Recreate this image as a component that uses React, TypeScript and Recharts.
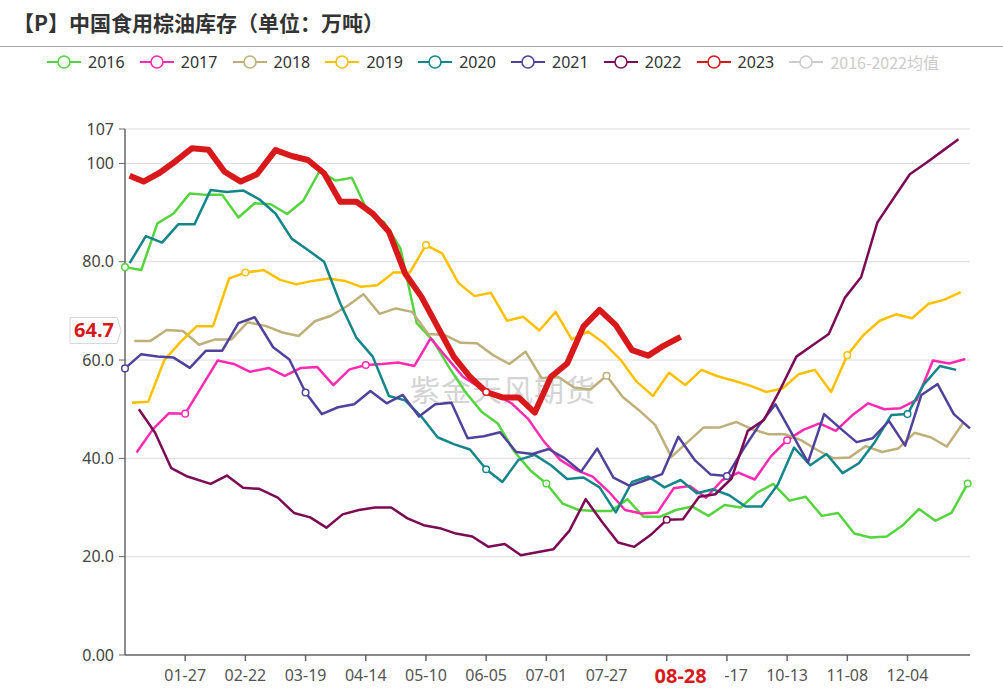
import React from "react";
import { LineChart, Line, XAxis, YAxis, CartesianGrid, ReferenceLine } from "recharts";

const WIDTH = 1003;
const HEIGHT = 696;
const MARGIN = { top: 129, right: 33, bottom: 0, left: 65 };
const Y_AXIS_W = 60;
const X_AXIS_H = 41;
const AXIS_Y = HEIGHT - MARGIN.bottom - X_AXIS_H; // bottom of the plot

const FONT = '"Noto Sans", "Noto Sans CJK SC", sans-serif';
const CJK = '"Noto Sans CJK SC", "Noto Sans", sans-serif';

// The x axis is one calendar year (leap year, so 02-29 exists), one category per day.
const pad = (n: number) => String(n).padStart(2, "0");
const DAYS: string[] = [];
for (let d = new Date(2016, 0, 1); d.getFullYear() === 2016; d.setDate(d.getDate() + 1)) {
  DAYS.push(`${pad(d.getMonth() + 1)}-${pad(d.getDate())}`);
}

// dates of a weekly report, as MM-DD
function weekly(year: number, from: string, count: number): string[] {
  const [m, d] = from.split("-").map(Number);
  const out: string[] = [];
  for (let i = 0; i < count; i++) {
    const t = new Date(year, m - 1, d + 7 * i);
    out.push(`${pad(t.getMonth() + 1)}-${pad(t.getDate())}`);
  }
  return out;
}

const X_TICKS = ["01-27", "02-22", "03-19", "04-14", "05-10", "06-05", "07-01", "07-27", "08-22", "09-17", "10-13", "11-08", "12-04"];
const CURRENT_DATE = "08-28";
const Y_TICKS = [0, 20, 40, 60, 80, 100, 107];

// 万吨
const v2016 = [78.9, 78.3, 87.8, 89.8, 93.9, 93.6, 93.6, 89.0, 91.9, 91.7, 89.7, 92.4, 98.4, 96.5, 97.1, 90.0, 88.0, 82.7, 67.5, 64.0, 58.5, 53.5, 49.5, 47.1, 41.5, 37.6, 34.9, 30.8, 29.5, 29.3, 29.3, 31.7, 28.1, 28.1, 29.5, 30.2, 28.3, 30.5, 30.0, 33.0, 34.8, 31.4, 32.2, 28.3, 28.9, 24.7, 23.9, 24.1, 26.4, 29.7, 27.3, 28.9, 34.9];
const v2017 = [41.2, 45.9, 49.2, 49.1, 54.5, 59.9, 59.2, 57.6, 58.4, 56.8, 58.4, 58.6, 54.9, 58.1, 59.0, 59.2, 59.5, 58.8, 64.4, 60.5, 56.6, 54.5, 53.0, 51.2, 48.1, 43.4, 39.7, 37.6, 36.3, 33.2, 29.5, 28.8, 29.0, 33.9, 34.4, 32.0, 35.6, 37.1, 35.7, 40.4, 43.7, 45.8, 47.1, 45.6, 48.7, 51.2, 50.0, 50.2, 51.9, 59.9, 59.3, 60.2];
const v2018 = [63.9, 63.9, 66.1, 65.9, 63.1, 64.2, 64.2, 67.7, 66.9, 65.6, 64.9, 67.9, 69.0, 71.0, 73.4, 69.4, 70.5, 69.8, 65.3, 65.1, 63.5, 63.4, 61.0, 59.2, 61.7, 56.3, 56.6, 54.4, 54.0, 56.8, 52.5, 49.8, 46.8, 40.3, 43.3, 46.3, 46.3, 47.4, 45.9, 44.9, 44.9, 43.7, 41.7, 40.0, 40.2, 42.5, 41.3, 42.0, 45.2, 44.3, 42.4, 47.2];
const v2019 = [51.3, 51.5, 60.0, 63.7, 66.9, 66.9, 76.6, 77.8, 78.3, 76.3, 75.4, 76.1, 76.6, 76.1, 74.9, 75.2, 77.8, 77.8, 83.4, 81.7, 75.7, 73.0, 73.7, 68.0, 68.8, 66.0, 69.8, 64.2, 65.8, 63.4, 60.1, 55.6, 52.7, 57.4, 54.9, 58.0, 56.7, 55.8, 54.8, 53.5, 54.2, 57.1, 58.0, 53.5, 61.0, 65.1, 68.0, 69.3, 68.5, 71.4, 72.3, 73.8];
const v2020 = [79.7, 85.2, 83.9, 87.6, 87.6, 94.6, 94.2, 94.5, 92.7, 89.8, 84.7, 82.4, 80.0, 71.5, 64.5, 60.7, 52.7, 51.8, 48.5, 44.3, 42.9, 41.8, 37.8, 35.2, 39.7, 40.7, 38.6, 35.8, 36.1, 34.1, 29.0, 35.2, 36.3, 34.1, 35.6, 32.9, 33.7, 32.5, 30.2, 30.2, 34.7, 42.2, 38.6, 40.9, 37.0, 39.0, 43.4, 48.8, 49.0, 55.0, 58.8, 58.0];
const v2021 = [58.3, 61.2, 60.7, 60.5, 58.4, 61.9, 61.9, 67.5, 68.7, 62.6, 60.1, 53.4, 49.0, 50.4, 51.0, 53.7, 51.2, 52.9, 48.5, 51.0, 51.3, 44.1, 44.5, 45.3, 41.3, 40.9, 41.9, 40.0, 37.3, 42.0, 36.1, 34.4, 35.6, 36.8, 44.4, 39.7, 36.7, 36.4, 41.8, 46.8, 51.0, 45.1, 39.2, 49.0, 46.1, 43.3, 44.1, 47.6, 42.6, 52.9, 55.1, 49.0, 46.1];
const v2022 = [50.0, 45.2, 38.0, 36.3, 34.8, 36.5, 34.0, 33.8, 32.0, 28.9, 28.0, 25.9, 28.6, 29.5, 30.0, 30.0, 27.8, 26.4, 25.8, 24.7, 24.1, 22.0, 22.6, 20.3, 20.9, 21.5, 25.3, 31.7, 27.1, 22.9, 22.0, 24.4, 27.5, 27.6, 32.2, 32.7, 35.9, 45.6, 47.8, 54.0, 60.7, 63.0, 65.3, 72.7, 76.9, 88.0, 92.9, 97.8, 100.1, 102.5, 104.9];
const v2023 = [97.5, 96.3, 98.1, 100.5, 103.1, 102.8, 98.3, 96.3, 97.8, 102.7, 101.5, 100.7, 98.0, 92.2, 92.2, 89.8, 86.1, 77.6, 72.9, 66.8, 60.7, 56.6, 53.5, 52.4, 52.4, 49.3, 56.6, 59.3, 66.8, 70.2, 67.1, 62.0, 60.9, 63.0, 64.7];

// Fridays until 2022, then Mondays
const d2022 = [...weekly(2022, "01-07", 4), ...weekly(2022, "02-07", v2022.length - 4)];
const d2023 = ["01-03", ...weekly(2023, "01-09", v2023.length - 1)];

const SERIES = [
  { name: "2016", color: "#55d43f", width: 2.5, values: v2016, dates: weekly(2016, "01-01", v2016.length) },
  { name: "2017", color: "#ff2bb1", width: 2.5, values: v2017, dates: weekly(2017, "01-06", v2017.length) },
  { name: "2018", color: "#bdb07a", width: 2.5, values: v2018, dates: weekly(2018, "01-05", v2018.length) },
  { name: "2019", color: "#ffc000", width: 2.5, values: v2019, dates: weekly(2019, "01-04", v2019.length) },
  { name: "2020", color: "#14868a", width: 2.5, values: v2020, dates: weekly(2020, "01-03", v2020.length) },
  { name: "2021", color: "#50429b", width: 2.5, values: v2021, dates: weekly(2021, "01-01", v2021.length) },
  { name: "2022", color: "#7b0b55", width: 2.5, values: v2022, dates: d2022 },
  { name: "2023", color: "#d7191c", width: 6, values: v2023, dates: d2023 },
].map((s) => ({
  ...s,
  rows: s.values.map((value, i) => ({ idx: DAYS.indexOf(s.dates[i]), value })),
}));

const AVG_NAME = "2016-2022均值"; // hidden series, only its legend entry is shown
const LATEST = v2023[v2023.length - 1];

const currentIdx = DAYS.indexOf(CURRENT_DATE);
const xTicks = [...X_TICKS.map((t) => DAYS.indexOf(t)), currentIdx];

function DateTick(props: any) {
  const { x, payload } = props;
  const label = DAYS[payload.value];
  if (label === CURRENT_DATE) {
    return (
      <g>
        <rect x={x - 44} y={AXIS_Y + 6} width={88} height={30} fill="#fff" />
        <text x={x} y={AXIS_Y + 28} textAnchor="middle" fill="#d7191c" fontSize={20} fontWeight="bold" fontFamily={FONT}>
          {label}
        </text>
      </g>
    );
  }
  // a label sitting right under the current date is covered by it anyway
  const covered = Math.abs(payload.value - currentIdx) < 10;
  return (
    <g>
      <line x1={x} x2={x} y1={AXIS_Y} y2={AXIS_Y + 6} stroke="#666" strokeWidth={1.5} />
      {!covered && (
        <text x={x} y={AXIS_Y + 26} textAnchor="middle" fill="#555" fontSize={16} fontFamily={FONT}>
          {label}
        </text>
      )}
    </g>
  );
}

// little hollow circles where a point falls on a labelled day
const markerDot = (name: string, color: string) => (p: any) => {
  const key = `${name}-${p.index}`;
  if (p.payload == null || p.payload.idx % 26 !== 0) return <g key={key} />;
  return <circle key={key} cx={p.cx} cy={p.cy} r={3.3} fill="#fff" stroke={color} strokeWidth={1.5} />;
};

function PriceTag(props: any) {
  const vb = props.viewBox || {};
  const tip = vb.x - 4;
  const cy = vb.y - 6.5;
  const d = `M${tip - 51},${cy - 13} H${tip - 4} L${tip},${cy} L${tip - 4},${cy + 13} H${tip - 51} Z`;
  return (
    <g>
      <path d={d} fill="#fff" stroke="#d6d6d6" strokeWidth={1} />
      <text x={tip - 27} y={cy + 7} textAnchor="middle" fill="#d7191c" fontSize={20} fontWeight="bold" fontFamily={FONT}>
        {LATEST.toFixed(1)}
      </text>
    </g>
  );
}

function LegendIcon({ color }: { color: string }) {
  return (
    <svg width={34} height={16} style={{ marginRight: 7 }}>
      <line x1={0} x2={34} y1={8} y2={8} stroke={color} strokeWidth={2} />
      <circle cx={17} cy={8} r={6} fill="#fff" stroke={color} strokeWidth={1.6} />
    </svg>
  );
}

export default function App() {
  return (
    <div style={{ position: "absolute", left: 0, top: 0, width: WIDTH, height: HEIGHT, background: "#fff", fontFamily: FONT }}>
      <div style={{ position: "absolute", left: 13, top: 7, fontSize: 21, fontWeight: "bold", color: "#333", fontFamily: CJK, whiteSpace: "nowrap" }}>
        【P】中国食用棕油库存（单位：万吨）
      </div>
      <div style={{ position: "absolute", left: 0, top: 46, width: WIDTH, borderTop: "1px solid #a8a8a8" }} />

      <div style={{ position: "absolute", left: 47, top: 50, display: "flex", alignItems: "center", fontSize: 16, color: "#333" }}>
        {SERIES.map((s) => (
          <div key={s.name} style={{ width: 92.8, display: "flex", alignItems: "center" }}>
            <LegendIcon color={s.color} />
            <span>{s.name}</span>
          </div>
        ))}
        <div style={{ display: "flex", alignItems: "center", color: "#cccccc", fontFamily: CJK }}>
          <LegendIcon color="#cccccc" />
          <span>{AVG_NAME}</span>
        </div>
      </div>

      <div style={{ position: "absolute", left: 410, top: 366, fontSize: 30, color: "#d4d4d4", fontFamily: CJK, letterSpacing: 1 }}>
        紫金天风期货
      </div>

      <LineChart width={WIDTH} height={HEIGHT} margin={MARGIN}>
        <CartesianGrid vertical={false} stroke="#dcdcdc" />
        <XAxis
          type="number"
          dataKey="idx"
          domain={[0, DAYS.length - 1]}
          ticks={xTicks}
          interval={0}
          height={X_AXIS_H}
          tickLine={false}
          tick={DateTick}
          axisLine={{ stroke: "#666", strokeWidth: 1.5 }}
        />
        <YAxis
          type="number"
          domain={[0, 107]}
          ticks={Y_TICKS}
          interval={0}
          width={Y_AXIS_W}
          tickFormatter={(v: number) => v.toPrecision(3)}
          tick={{ fill: "#444", fontSize: 16, fontFamily: FONT }}
          tickSize={6}
          tickMargin={5}
          tickLine={{ stroke: "#666" }}
          axisLine={{ stroke: "#666", strokeWidth: 1.5 }}
        />
        {SERIES.map((s) => (
          <Line
            key={s.name}
            name={s.name}
            data={s.rows}
            dataKey="value"
            type="linear"
            stroke={s.color}
            strokeWidth={s.width}
            strokeLinejoin="round"
            dot={markerDot(s.name, s.color)}
            activeDot={false}
            isAnimationActive={false}
          />
        ))}
        <ReferenceLine y={LATEST} stroke="none" ifOverflow="visible" label={PriceTag} />
      </LineChart>
    </div>
  );
}
